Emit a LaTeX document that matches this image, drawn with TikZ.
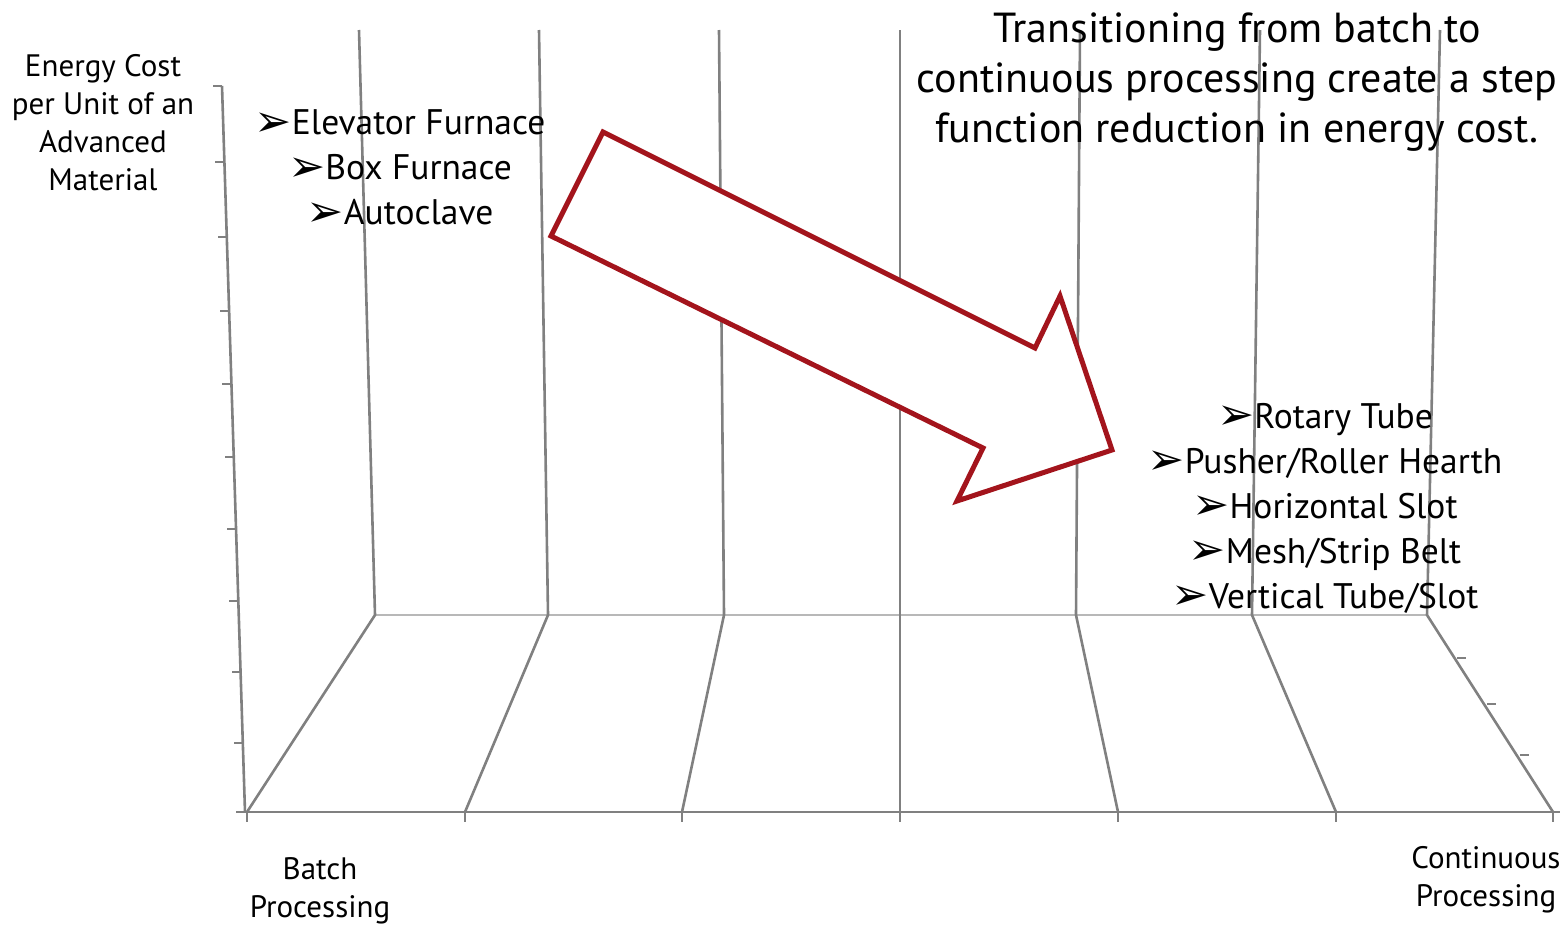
\documentclass[tikz,border=0pt]{standalone}
\usepackage{fontspec}
\setmainfont{PT Sans}
\newfontfamily\tipfont{DejaVu Sans}
\usetikzlibrary{positioning}
\definecolor{arrowred}{HTML}{A3141C}
\newcommand{\Pick}[1]{\raisebox{-0.05em}{\scalebox{1.25}{\tipfont\char"27A2}}#1}

\begin{document}
\begin{tikzpicture}[x=1pt,y=-1pt,
                    grid/.style={draw=black!50, line width=2.6pt},
                    backline/.style={draw=black!28, line width=2pt},
                    axislabel/.style={align=center, font=\fontsize{31}{38}\selectfont},
                    kilnlist/.style={align=center, font=\fontsize{35.5}{45}\selectfont},
                    headline/.style={align=center, font=\fontsize{42}{50}\selectfont},
                    stepshift/.style={draw=arrowred, fill=white, line width=5pt, line join=miter}]

                \useasboundingbox (0,0) rectangle (1568,927);

                % floor and back wall
                \draw[backline] (375,615) -- (1427,615);
                \foreach \xf/\xb/\xt in {247/375/359, 465/548/539, 682/724/719,
                                         900/900/900, 1118/1076/1080,
                                         1336/1252/1260, 1553/1427/1440}
                {
                    \draw[grid] (\xf,812) -- (\xb,615) -- (\xt,30);
                    \draw[grid] (\xf,812) -- (\xf,822);
                }
                \draw[grid] (245,812) -- (1560,812);

                % cost axis
                \draw[grid] (245,812) -- (222,86);
                \foreach \ty in {86,162,237,311,384,457,529,601,672,743,812}
                    \draw[grid] ({245-(812-\ty)/726*23},\ty) -- ++(-9,0);

                % depth ticks
                \foreach \tx/\ty in {1457/658, 1487/704, 1520/755}
                    \draw[grid] (\tx,\ty) -- ++(9,0);

                \draw(103,123) node[axislabel] (cost) {Energy Cost\\per Unit of an\\Advanced\\Material};
                \draw(320,891) node[axislabel] (batch) {Batch\\Processing};
                \draw(1486,880) node[axislabel] (cont) {Continuous\\Processing};

                \draw(400,168) node[kilnlist] (batchkilns)
                    {\Pick{Elevator Furnace}\\\Pick{Box Furnace}\\\Pick{Autoclave}};

                % big arrow
                \draw[stepshift] (603,132) -- (1035,348) -- (1060,296) -- (1112,450)
                                 -- (957,501) -- (983,448) -- (551,236) -- cycle;

                \draw(1325,508) node[kilnlist] (contkilns)
                    {\Pick{Rotary Tube}\\\Pick{Pusher/Roller Hearth}\\\Pick{Horizontal Slot}\\
                     \Pick{Mesh/Strip Belt}\\\Pick{Vertical Tube/Slot}};

                \draw(1237,82) node[headline] (note)
                    {Transitioning from batch to\\continuous processing create a step\\function reduction in energy cost.};

            \end{tikzpicture}
\end{document}
